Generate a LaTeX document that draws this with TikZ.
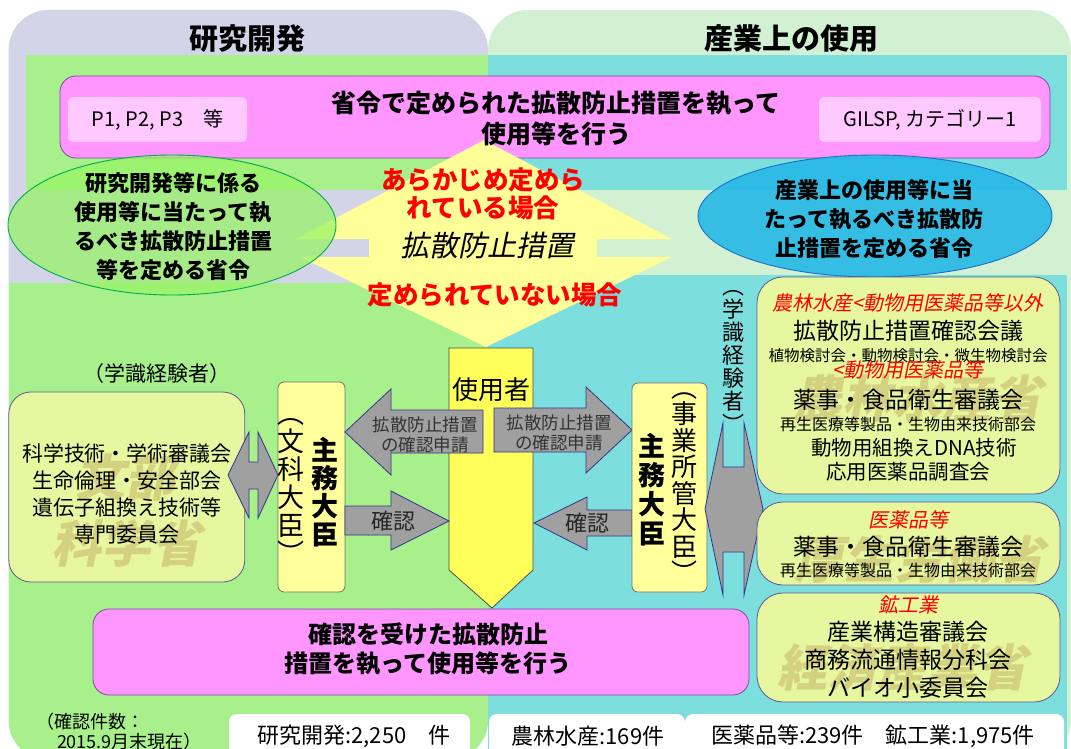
\documentclass[tikz,border=0pt]{standalone}
\usepackage{fontspec}
\setmainfont{Noto Sans CJK JP}
\newfontfamily\jpit[FakeSlant=0.2]{Noto Sans CJK JP}
\usetikzlibrary{shapes.geometric}
\definecolor{lav}{RGB}{212,212,232}
\definecolor{lgreen}{RGB}{210,240,210}
\definecolor{gband}{RGB}{168,240,140}
\definecolor{cband}{RGB}{125,222,222}
\definecolor{pinkbox}{RGB}{255,150,255}
\definecolor{pinkedge}{RGB}{120,80,160}
\definecolor{pinklt}{RGB}{255,200,255}
\definecolor{ellg}{RGB}{150,245,100}
\definecolor{ellgedge}{RGB}{0,170,80}
\definecolor{ellb}{RGB}{40,185,230}
\definecolor{ellbedge}{RGB}{30,110,200}
\definecolor{dia}{RGB}{255,255,153}
\definecolor{boxyg}{RGB}{230,247,160}
\definecolor{boxedge}{RGB}{90,90,150}
\definecolor{paley}{RGB}{255,255,155}
\definecolor{brighty}{RGB}{255,255,90}
\definecolor{arrgray}{RGB}{160,160,160}
\definecolor{arrblue}{RGB}{50,50,140}
\definecolor{wm}{RGB}{195,175,100}
\definecolor{redtxt}{RGB}{255,0,0}
\newcommand{\fsz}[2]{\fontsize{#1}{#2}\selectfont}
\begin{document}
\begin{tikzpicture}[x=1pt,y=-1pt,
  every node/.style={inner sep=0pt,outer sep=0pt,align=center},
  blockarrow/.style={fill=arrgray,draw=arrblue,line width=0.8pt,line join=miter},
  roundbox/.style={draw=boxedge,fill=boxyg,line width=0.8pt,rounded corners=26pt},
  minbox/.style={draw=black!55,fill=paley,line width=0.8pt,rounded corners=6pt},
  whitebox/.style={fill=white,rounded corners=8pt},
  wmark/.style={text=wm,text opacity=0.5,font=\fsz{50}{52}\jpit\bfseries},
  redit/.style={text=redtxt,font=\fsz{20}{22}\jpit},
  redbold/.style={text=redtxt,font=\fsz{25.5}{28}\bfseries}]
\useasboundingbox (0,0) rectangle (1071,749);
% backgrounds
\fill[white] (0,0) rectangle (1071,749);
\fill[lav, rounded corners=40pt] (8.6,10) rectangle (488,760);
\fill[lgreen, rounded corners=40pt] (488,10) rectangle (1071,760);
\fill[gband] (26,55) rectangle (488,190);
\begin{scope}
  \clip[rounded corners=40pt] (8.6,10) rectangle (488,760);
  \fill[gband] (8.6,283) rectangle (488,760);
\end{scope}
\fill[cband] (488,55) rectangle (1067,190);
\fill[cband] (488,275) rectangle (1067,760);
% headers
\node[font=\fsz{29}{30}\bfseries] (hdrL) at (247,39) {研究開発};
\node[font=\fsz{29}{30}\bfseries] (hdrR) at (791,39) {産業上の使用};
% top pink box
\node[draw=pinkedge,fill=pinkbox,line width=0.8pt,rounded corners=16pt,minimum width=990pt,minimum height=82pt] (topbox) at (555,117) {};
\node[fill=pinklt,rounded corners=6pt,minimum width=179pt,minimum height=45pt,font=\fsz{20}{22}] (pbox) at (157.5,119.5) {P1, P2, P3\quad 等};
\node[fill=pinklt,rounded corners=6pt,minimum width=222pt,minimum height=45pt,font=\fsz{20}{22}] (gbox) at (930,119.5) {GILSP, カテゴリー1};
% diamond
\fill[dia] (484,140) -- (672,239) -- (597,239) -- (597,257) -- (672,257) -- (486,347)
  -- (300,257) -- (369,257) -- (369,239) -- (296,239) -- cycle;
\node[font=\fsz{25}{31}\bfseries] (toptext) at (556,118.5) {省令で定められた拡散防止措置を執って\\使用等を行う};
% ellipses
\node[ellipse,draw=ellgedge,fill=ellg,fill opacity=0.72,line width=0.9pt,minimum width=328pt,minimum height=140pt] (ellL) at (172,225) {};
\node[ellipse,draw=ellbedge,fill=ellb,fill opacity=0.92,line width=0.9pt,minimum width=354pt,minimum height=122pt] (ellR) at (875,216) {};
\node[font=\fsz{22}{29}\bfseries] (ellLtext) at (173,227) {研究開発等に係る\\使用等に当たって執\\るべき拡散防止措置\\等を定める省令};
\node[font=\fsz{22}{29}\bfseries] (ellRtext) at (874,219) {産業上の使用等に当\\たって執るべき拡散防\\止措置を定める省令};
% diamond texts
\node[redbold] (pre) at (483,194) {あらかじめ定めら\\れている場合};
\node[font=\fsz{29}{30}\jpit] (kakusan) at (487,245) {拡散防止措置};
\node[redbold] (notpre) at (495,295) {定められていない場合};
% left side
\node[font=\fsz{21}{22}] (gakushikiL) at (157,374) {（学識経験者）};
\node[roundbox,rounded corners=22pt,minimum width=236pt,minimum height=190pt] (lbox) at (126.8,487) {};
\node[wmark] (wmL1) at (125,478) {文部};
\node[wmark] (wmL2) at (126,543) {科学省};
\node[font=\fsz{21}{27}] (lboxtext) at (127,494) {科学技術・学術審議会\\生命倫理・安全部会\\遺伝子組換え技術等\\専門委員会};
\draw[blockarrow] (228,475) -- (249,432) -- (249,462) -- (258,462) -- (258,432) -- (278,475)
  -- (258,518) -- (258,489) -- (249,489) -- (249,518) -- cycle;
\node[minbox,minimum width=67pt,minimum height=210pt] (minL) at (311.5,487) {};
\node[font=\fsz{27}{28}\bfseries] (minLa) at (325,492) {主\\務\\大\\臣};
\node[font=\fsz{27}{28}] (minLb) at (291,491) {︵\\文\\科\\大\\臣\\︶};
% user arrow
\draw[fill=brighty,draw=black!70,line width=0.8pt] (449,348) -- (533,348) -- (533,570) -- (492,608) -- (449,570) -- cycle;
\node[font=\fsz{26}{28}] (user) at (491,390) {使用者};
% block arrows
\draw[blockarrow] (345,432) -- (391,389) -- (391,410) -- (483,410) -- (483,453) -- (391,453) -- (391,475) -- cycle;
\node[font=\fsz{17.5}{20},text=black!80] (appL) at (425,435) {拡散防止措置\\の確認申請};
\draw[blockarrow] (494,408) -- (586,408) -- (586,387) -- (632,430) -- (586,473) -- (586,452) -- (494,452) -- cycle;
\node[font=\fsz{17.5}{20},text=black!80] (appR) at (559,433) {拡散防止措置\\の確認申請};
\draw[blockarrow] (345,506) -- (391,506) -- (391,491) -- (449,521) -- (391,550) -- (391,535) -- (345,535) -- cycle;
\node[font=\fsz{22}{24},text=black!85] (confL) at (393,521) {確認};
\draw[blockarrow] (534,523) -- (587,497) -- (587,510) -- (632,510) -- (632,536) -- (587,536) -- (587,550) -- cycle;
\node[font=\fsz{22}{24},text=black!85] (confR) at (587,523) {確認};
% right side minister
\node[minbox,minimum width=75pt,minimum height=209pt] (minR) at (669.5,487.5) {};
\node[font=\fsz{27}{29}\bfseries] (minRa) at (652,490) {主\\務\\大\\臣};
\node[font=\fsz{26}{26.5}] (minRb) at (684,487.5) {︵\\事\\業\\所\\管\\大\\臣\\︶};
\node[font=\fsz{22}{23}] (gakushikiR) at (733,361) {︵\\学\\識\\経\\験\\者\\︶};
\draw[blockarrow] (705,509) -- (723,423) -- (723,467) -- (744,467) -- (744,423) -- (763,509)
  -- (744,595) -- (744,552) -- (723,552) -- (723,595) -- cycle;
% right boxes
\node[roundbox,minimum width=303pt,minimum height=217pt] (rbox1) at (908.5,385.5) {};
\node[roundbox,minimum width=303pt,minimum height=83pt] (rbox2) at (908.5,543.5) {};
\node[roundbox,minimum width=303pt,minimum height=109pt] (rbox3) at (908.5,647.5) {};
\node[wmark] (wmR1) at (917,398) {農林水産省};
\node[wmark] (wmR2) at (919,560) {厚生労働省};
\node[wmark] (wmR3) at (902,668) {経済産業省};
\node[redit] (r1a) at (908,303) {農林水産<動物用医薬品等以外};
\node[font=\fsz{23}{24}] (r1b) at (908,331) {拡散防止措置確認会議};
\node[font=\fsz{15.5}{17}] (r1c) at (908,356) {植物検討会・動物検討会・微生物検討会};
\node[redit] (r1d) at (908,370) {<動物用医薬品等};
\node[font=\fsz{23}{24}] (r1e) at (908,400) {薬事・食品衛生審議会};
\node[font=\fsz{16}{17}] (r1f) at (908,424) {再生医療等製品・生物由来技術部会};
\node[font=\fsz{20.5}{22}] (r1g) at (914,448) {動物用組換えDNA技術};
\node[font=\fsz{20.5}{22}] (r1h) at (908,472) {応用医薬品調査会};
\node[redit] (r2a) at (908,520) {医薬品等};
\node[font=\fsz{23}{24}] (r2b) at (908,547) {薬事・食品衛生審議会};
\node[font=\fsz{16}{17}] (r2c) at (908,570) {再生医療等製品・生物由来技術部会};
\node[redit] (r3a) at (908,605) {鉱工業};
\node[font=\fsz{23}{28}] (r3b) at (908,660) {産業構造審議会\\商務流通情報分科会\\バイオ小委員会};
% bottom pink box
\node[draw=pinkedge,fill=pinkbox,line width=0.8pt,rounded corners=16pt,minimum width=656pt,minimum height=86pt] (botbox) at (421,652) {};
\node[font=\fsz{24}{29}\bfseries] (bottext) at (428,649.5) {確認を受けた拡散防止\\措置を執って使用等を行う};
% counts
\node[font=\fsz{18}{20},anchor=west] (cnt1) at (36,722) {（確認件数：};
\node[font=\fsz{18}{20},anchor=west] (cnt2) at (57,741.5) {2015.9月末現在）};
\node[whitebox,minimum width=241pt,minimum height=52pt] (wb1) at (349.5,740) {};
\node[font=\fsz{22}{24}] (wb1t) at (354,736) {研究開発:2,250\quad 件};
\node[whitebox,minimum width=196pt,minimum height=52pt] (wb2) at (587,740) {};
\node[font=\fsz{22}{24}] (wb2t) at (588,736) {農林水産:169件};
\node[whitebox,minimum width=379pt,minimum height=52pt] (wb3) at (874.5,740) {};
\node[font=\fsz{22}{24}] (wb3t) at (873,736) {医薬品等:239件\quad 鉱工業:1,975件};
\end{tikzpicture}
\end{document}
